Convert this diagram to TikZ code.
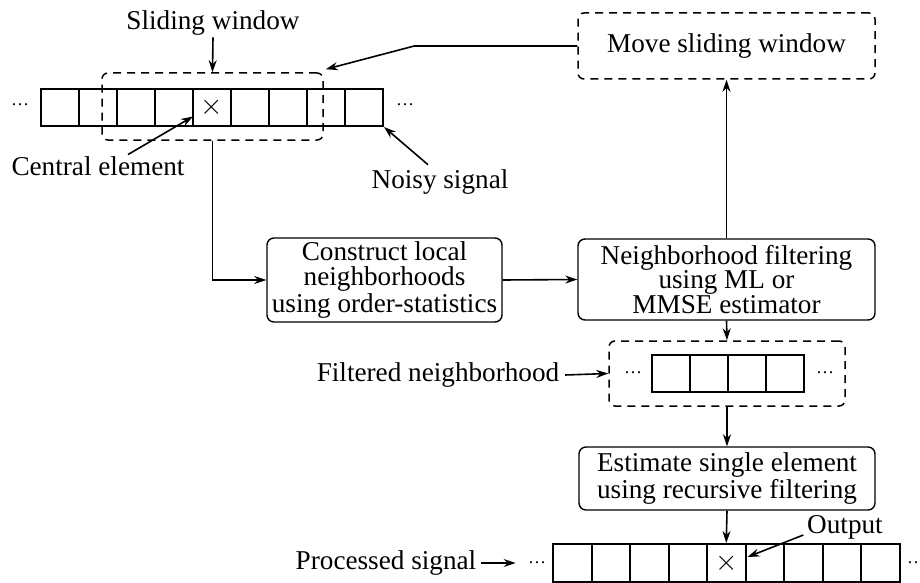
\documentclass[tikz,border=0pt]{standalone}
\usepackage{fontspec}
\setmainfont{Liberation Serif}
\usetikzlibrary{arrows.meta}
\usetikzlibrary{calc}

\tikzset{
  proc/.style={draw, line width=0.7pt, rounded corners=3.5pt, align=center, inner sep=0pt, font=\fontsize{13.6}{12.2}\selectfont},
  dwin/.style={draw, line width=0.75pt, dash pattern=on 4pt off 3pt, rounded corners=3pt, inner sep=0pt, align=center, font=\fontsize{13.6}{12.2}\selectfont},
  cell/.style={draw, line width=1pt, inner sep=0pt, minimum width=19pt, minimum height=18.5pt},
  lbl/.style={inner sep=0.75pt, font=\fontsize{13.6}{12.2}\selectfont},
  cross/.style={inner sep=0pt, font=\fontsize{15}{15}\selectfont},
  dots/.style={inner sep=1pt, font=\fontsize{9}{10}\selectfont},
  arr/.style={line width=0.8pt, -{Stealth[length=6pt,width=4pt]}},
}

\begin{document}
\begin{tikzpicture}[x=0.5pt,y=0.5pt,yscale=-1,xscale=1]
\useasboundingbox (0,0) rectangle (920,583);

%Shape: Noisy signal cells
\foreach \i in {1,...,9}
  \node[cell] (s\i) at ({22+38*\i},107.5) {};
\node[cross] (ctr) at (s5) {$\times$};
\node[dots] (sdl) at (20,105) {\dots};
\node[dots] (sdr) at (405,105) {\dots};
%Shape: Sliding window
\node[dwin, minimum width=110.5pt, minimum height=33.5pt] (win) at (212.5,106.5) {};

% Text Node
\node[lbl] (lwin) at (213,23) {Sliding window};
\node[lbl] (lcen) at (98,166) {Central element};
\node[lbl] (lnoi) at (440,182) {Noisy signal};

%Shape: Process boxes
\node[dwin, minimum width=148.5pt, minimum height=33pt] (move) at (726.5,46) {Move sliding window};
\node[proc, minimum width=117.5pt, minimum height=42pt] (cons) at (384.5,280) {Construct local\\neighborhoods\\using order-statistics};
\node[proc, minimum width=148.5pt, minimum height=40.5pt] (filt) at (726.5,279.5) {Neighborhood filtering\\using ML or\\MMSE estimator};
\node[proc, minimum width=148pt, minimum height=31.5pt] (est) at (727,478.5) {Estimate single element\\using recursive filtering};

%Shape: Filtered neighborhood
\foreach \i in {1,...,4}
  \node[cell] (f\i) at ({633+38*\i},373.5) {};
\node[dots] (fdl) at (633,373) {\dots};
\node[dots] (fdr) at (825,373) {\dots};
\node[dwin, minimum width=118pt, minimum height=32.5pt] (fwin) at (727,373.5) {};
\node[lbl] (lfil) at (438,375) {Filtered neighborhood};

%Shape: Processed signal cells
\foreach \i in {1,...,9}
  \node[cell, minimum width=19.25pt, minimum height=19pt] (p\i) at ({533.75+38.5*\i},563) {};
\node[cross] (pout) at (p5) {$\times$};
\node[dots] (pdl) at (537,563) {\dots};
\node[dots] (pdr) at (916,563) {\dots};
\node[lbl] (lpro) at (386,563) {Processed signal};
\node[lbl] (lout) at (845,527) {Output};

%Straight Lines
\draw[arr] (lwin.south) -- (win.north);
\draw[arr] ($(lcen.north)+(30,0)$) -- ($(s5.west)+(1,9)$);
\draw[arr] ($(lnoi.north)+(-12,-3)$) -- (s9.south east);
\draw[arr] (move.west) -- ++(-163,0) -- ($(win.north east)+(2,-3)$);
\draw[arr] (win.south) |- (cons.west);
\draw[arr] (cons.east) -- (filt.west);
\draw[arr] (filt.north) -- (move.south);
\draw[arr] (filt.south) -- (fwin.north);
\draw[arr] ($(lfil.east)+(4,0)$) -- (fwin.west);
\draw[arr] (fwin.south) -- (est.north);
\draw[arr] (est.south) -- (p5.north);
\draw[arr, shorten >=5pt] ($(lpro.east)+(3,0)$) -- (pdl.west);
\draw[arr] ($(lout.west)+(-2,8)$) -- ($(p5.east)+(1,-6)$);

\end{tikzpicture}
\end{document}
